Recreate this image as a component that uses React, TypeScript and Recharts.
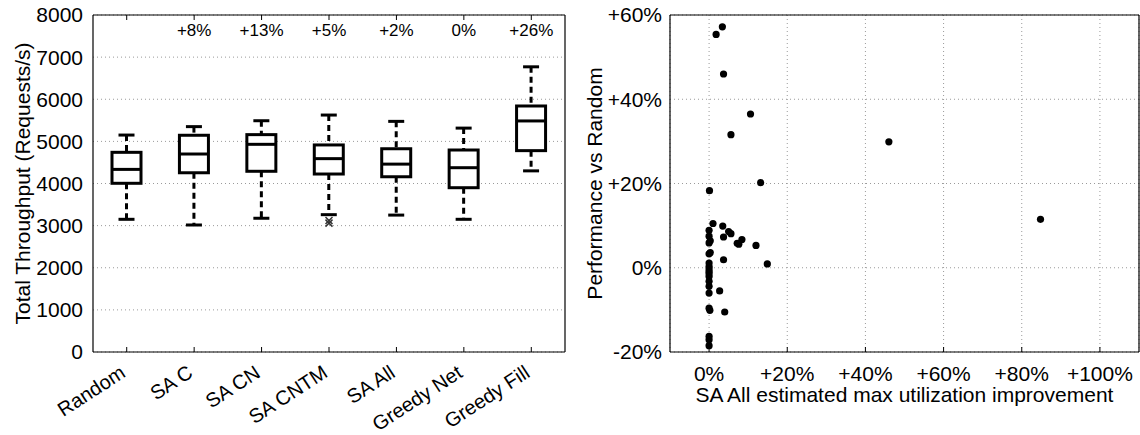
import React from 'react';
import {
  ComposedChart,
  ScatterChart,
  Bar,
  Scatter,
  XAxis,
  YAxis,
  CartesianGrid,
} from 'recharts';

// left panel: throughput distribution per placement strategy
const categories = ['Random', 'SA C', 'SA CN', 'SA CNTM', 'SA All', 'Greedy Net', 'Greedy Fill'];
const whiskerLow = [3150, 3015, 3175, 3260, 3250, 3150, 4300];
const quartile1 = [4005, 4255, 4290, 4225, 4160, 3900, 4780];
const medians = [4335, 4700, 4930, 4590, 4460, 4375, 5485];
const quartile3 = [4740, 5145, 5160, 4915, 4825, 4795, 5840];
const whiskerHigh = [5150, 5350, 5490, 5625, 5475, 5315, 6770];
const gainLabels = ['', '+8%', '+13%', '+5%', '+2%', '0%', '+26%'];
const outlierA = [null, null, null, 3120, null, null, null];
const outlierB = [null, null, null, 3060, null, null, null];
const throughputTicks = [0, 1000, 2000, 3000, 4000, 5000, 6000, 7000, 8000];

// right panel: estimated utilization gain vs measured performance gain
const utilGain = [
  3.4, 1.8, 3.7, 10.6, 5.6, 46.0, 13.2, 0.1, 84.8, 1.0, 3.5, 5.0, 5.6, 3.7, 8.4, 7.2, 7.6, 12.0,
  3.7, 14.9, 2.7, 4.0,
  0, 0, 0.3, 0, 0.3, 0, 0, 0, 0, 0, 0, 0, 0, 0, 0, 0, 0.2, 0, 0, 0,
];
const perfGain = [
  57.2, 55.4, 46.0, 36.5, 31.6, 29.9, 20.2, 18.3, 11.5, 10.5, 9.9, 8.6, 8.1, 7.3, 6.7, 5.8, 5.6, 5.3,
  1.9, 0.9, -5.5, -10.5,
  8.9, 7.5, 6.4, 5.9, 3.6, 3.3, 1.1, 0.3, -0.3, -0.9, -1.4, -2.1, -3.2, -4.4, -6.0, -9.6, -10.1, -16.3, -17.1, -18.5,
];
const utilTicks = [0, 20, 40, 60, 80, 100];
const perfTicks = [-20, 0, 20, 40, 60];

const boxData = categories.map((name, i) => ({
  name,
  low: whiskerLow[i],
  q1: quartile1[i],
  median: medians[i],
  q3: quartile3[i],
  high: whiskerHigh[i],
  outA: outlierA[i],
  outB: outlierB[i],
}));
const scatterData = utilGain.map((u, i) => ({ u, p: perfGain[i] }));

const FONT = '"Liberation Sans", Arial, Helvetica, sans-serif';
const GRID = '#9a9a9a';
const AXIS = { stroke: '#000', strokeWidth: 1.2 };

const BoxShape = (props: any) => {
  const { x, y, width, height, payload } = props;
  const { low, high, q1, q3, median } = payload;
  // pixel position inside the whisker range drawn by the bar
  const py = (v: number) => y + ((high - v) / (high - low)) * height;
  const cx = x + width / 2;
  const cap = 8;
  return (
    <g stroke="#000" strokeWidth={3} fill="none">
      <line x1={cx} x2={cx} y1={py(high)} y2={py(q3)} strokeDasharray="6 4" />
      <line x1={cx} x2={cx} y1={py(q1)} y2={py(low)} strokeDasharray="6 4" />
      <line x1={cx - cap} x2={cx + cap} y1={py(high)} y2={py(high)} />
      <line x1={cx - cap} x2={cx + cap} y1={py(low)} y2={py(low)} />
      <rect x={x} y={py(q3)} width={width} height={py(q1) - py(q3)} fill="#fff" />
      <line x1={x} x2={x + width} y1={py(median)} y2={py(median)} />
    </g>
  );
};

const CrossShape = (props: any) => {
  const { cx, cy, payload, field } = props;
  if (payload == null || payload[field] == null || !Number.isFinite(cy)) return <g />;
  const s = 3.5;
  return (
    <g stroke="#333" strokeWidth={1.5}>
      <line x1={cx - s} y1={cy - s} x2={cx + s} y2={cy + s} />
      <line x1={cx - s} y1={cy + s} x2={cx + s} y2={cy - s} />
    </g>
  );
};

const DotShape = (props: any) => <circle cx={props.cx} cy={props.cy} r={3.6} fill="#000" />;

const CategoryTick = (props: any) => {
  const { x, y, payload } = props;
  const tx = x;
  const ty = y + 24;
  return (
    <g>
      <line x1={x} x2={x} y1={y} y2={y - 5} stroke="#000" />
      <text
        x={tx}
        y={ty}
        textAnchor="end"
        fontSize={20}
        fontFamily={FONT}
        fill="#000"
        transform={`rotate(-33, ${tx}, ${ty})`}
      >
        {payload.value}
      </text>
    </g>
  );
};

const GainTick = (props: any) => {
  const { x, y, payload } = props;
  const label = gainLabels[categories.indexOf(payload.value)];
  return (
    <g>
      <line x1={x} x2={x} y1={y} y2={y + 5} stroke="#000" />
      <text x={x} y={y + 21} textAnchor="middle" fontSize={17} fontFamily={FONT} fill="#000">
        {label}
      </text>
    </g>
  );
};

const PercentXTick = (props: any) => {
  const { x, y, payload } = props;
  return (
    <g>
      <line x1={x} x2={x} y1={y} y2={y - 5} stroke="#000" />
      <text x={x} y={y + 29} textAnchor="middle" fontSize={21} fontFamily={FONT} fill="#000">
        {payload.value > 0 ? `+${payload.value}%` : `${payload.value}%`}
      </text>
    </g>
  );
};

const TopMark = (props: any) => (
  <line x1={props.x} x2={props.x} y1={props.y} y2={props.y + 5} stroke="#000" />
);
const RightMark = (props: any) => (
  <line x1={props.x} x2={props.x - 5} y1={props.y} y2={props.y} stroke="#000" />
);

const yTitle = (text: string, dx: number) => (p: any) => {
  const { x, y, height } = p.viewBox;
  const tx = x + dx;
  const ty = y + height / 2;
  return (
    <text
      x={tx}
      y={ty}
      textAnchor="middle"
      dominantBaseline="central"
      fontSize={21}
      fontFamily={FONT}
      fill="#000"
      transform={`rotate(-90, ${tx}, ${ty})`}
    >
      {text}
    </text>
  );
};

const xTitle = (text: string) => (p: any) => {
  const { x, y, width } = p.viewBox;
  return (
    <text x={x + width / 2} y={y + 50} textAnchor="middle" fontSize={21} fontFamily={FONT} fill="#000">
      {text}
    </text>
  );
};

const tickText = { fontSize: 21, fontFamily: FONT, fill: '#000' };

export default function App() {
  return (
    <div
      style={{
        position: 'absolute',
        left: 0,
        top: 0,
        width: 1140,
        height: 435,
        background: '#fff',
        fontFamily: FONT,
      }}
    >
      <div style={{ position: 'absolute', left: 0, top: 0 }}>
        <ComposedChart
          width={570}
          height={435}
          data={boxData}
          margin={{ top: 14, right: 4, bottom: 82, left: 12 }}
        >
          <CartesianGrid vertical={false} stroke={GRID} strokeDasharray="1 3" />
          <XAxis
            dataKey="name"
            height={1}
            tickSize={0}
            tickMargin={0}
            interval={0}
            axisLine={AXIS}
            tickLine={false}
            tick={<CategoryTick />}
          />
          <XAxis
            xAxisId="top"
            dataKey="name"
            orientation="top"
            height={1}
            tickSize={0}
            tickMargin={0}
            interval={0}
            axisLine={AXIS}
            tickLine={false}
            tick={<GainTick />}
          />
          <YAxis
            width={81}
            domain={[0, 8000]}
            ticks={throughputTicks}
            interval={0}
            tickSize={0}
            tickMargin={10}
            tickLine={false}
            axisLine={AXIS}
            tick={tickText}
            label={{ content: yTitle('Total Throughput (Requests/s)', 10) }}
          />
          <YAxis
            yAxisId="right"
            orientation="right"
            width={1}
            domain={[0, 8000]}
            ticks={throughputTicks}
            tickSize={0}
            tickMargin={0}
            tickLine={false}
            axisLine={AXIS}
            tick={<RightMark />}
          />
          <Bar
            dataKey={(d: any) => [d.low, d.high]}
            barSize={29}
            shape={<BoxShape />}
            isAnimationActive={false}
          />
          <Scatter dataKey="outA" shape={<CrossShape field="outA" />} isAnimationActive={false} />
          <Scatter dataKey="outB" shape={<CrossShape field="outB" />} isAnimationActive={false} />
        </ComposedChart>
      </div>
      <div style={{ position: 'absolute', left: 570, top: 0 }}>
        <ScatterChart width={570} height={435} margin={{ top: 14, right: 0, bottom: 82, left: 14 }}>
          <CartesianGrid stroke={GRID} strokeDasharray="1 3" />
          <XAxis
            type="number"
            dataKey="u"
            domain={[-10, 110]}
            ticks={utilTicks}
            interval={0}
            height={1}
            tickSize={0}
            tickMargin={0}
            tickLine={false}
            axisLine={AXIS}
            tick={<PercentXTick />}
            label={{ content: xTitle('SA All estimated max utilization improvement') }}
          />
          <XAxis
            xAxisId="top"
            type="number"
            orientation="top"
            domain={[-10, 110]}
            ticks={utilTicks}
            interval={0}
            height={1}
            tickSize={0}
            tickMargin={0}
            tickLine={false}
            axisLine={AXIS}
            tick={<TopMark />}
          />
          <YAxis
            type="number"
            dataKey="p"
            width={86}
            domain={[-20, 60]}
            ticks={perfTicks}
            interval={0}
            tickSize={0}
            tickMargin={8}
            tickLine={false}
            axisLine={AXIS}
            tick={tickText}
            tickFormatter={(v: number) => (v > 0 ? `+${v}%` : `${v}%`)}
            label={{ content: yTitle('Performance vs Random', 10) }}
          />
          <YAxis
            yAxisId="right"
            type="number"
            orientation="right"
            width={1}
            domain={[-20, 60]}
            ticks={perfTicks}
            tickSize={0}
            tickMargin={0}
            tickLine={false}
            axisLine={AXIS}
            tick={<RightMark />}
          />
          <Scatter data={scatterData} shape={<DotShape />} isAnimationActive={false} />
        </ScatterChart>
      </div>
    </div>
  );
}
